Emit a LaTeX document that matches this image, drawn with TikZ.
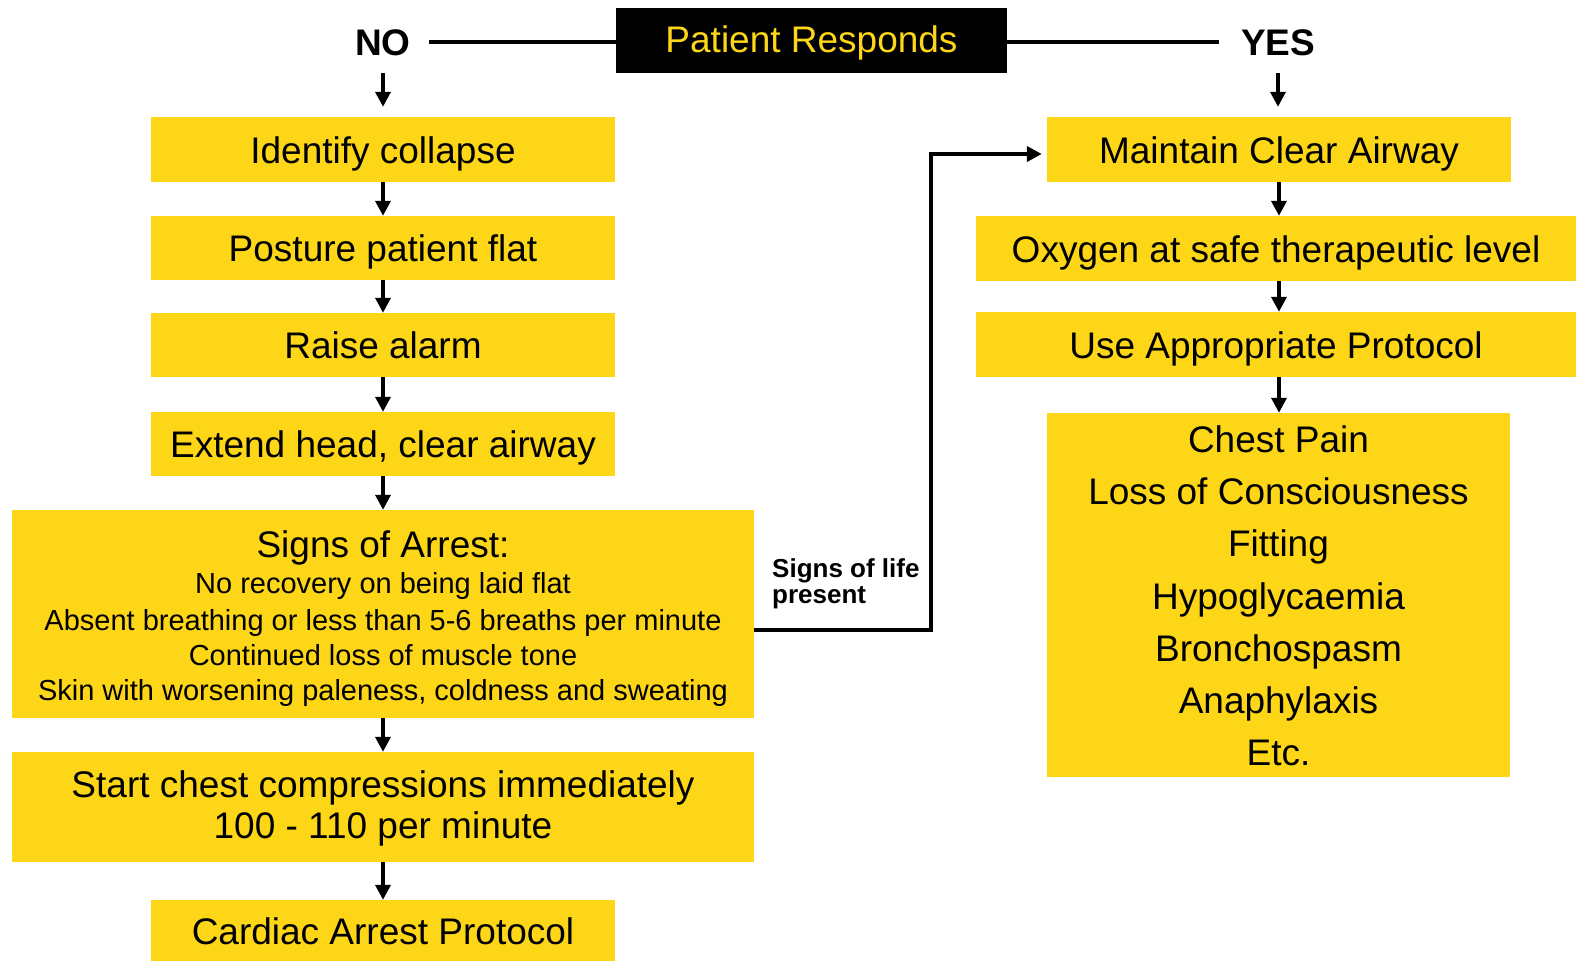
\documentclass[tikz,border=0pt]{standalone}
\usepackage{fontspec}
\setmainfont{Liberation Sans}
\usetikzlibrary{arrows.meta,calc}
\definecolor{ambu}{RGB}{253,214,24}
\begin{document}
\begin{tikzpicture}[x=1pt,y=-1pt,
  box/.style={fill=ambu, inner sep=0pt, text height=27pt, text depth=0pt, font=\fontsize{37}{44}\selectfont},
  narrowbox/.style={box, minimum width=464pt, minimum height=64pt},
  ln/.style={anchor=base, inner sep=0pt, font=\fontsize{37}{44}\selectfont},
  subln/.style={anchor=base, inner sep=0pt, font=\fontsize{29}{34}\selectfont},
  lifeln/.style={anchor=base west, inner sep=0pt, font=\bfseries\fontsize{26}{30}\selectfont},
  answer/.style={inner sep=0pt, text height=27pt, text depth=0pt, font=\bfseries\fontsize{37}{44}\selectfont},
  arr/.style={line width=3.5pt, -{Triangle[width=15pt,length=15pt]}},
  hline/.style={line width=4.5pt},
  conn/.style={line width=4pt, -{Triangle[width=15pt,length=15pt]}},
  ]
\useasboundingbox (0,0) rectangle (1576,961);

% top
\node[fill=black, text=ambu, minimum width=391pt, minimum height=65pt, inner sep=0pt,
      text height=27pt, text depth=4pt, font=\fontsize{37}{44}\selectfont] (pr) at (811.5,40.5) {Patient Responds};
\node[answer] (no) at (383,42) {NO};
\node[answer] (yes) at (1278,42) {YES};
\draw[hline] ([xshift=18pt]no.east) -- (no.east -| pr.west);
\draw[hline] (pr.east |- yes.west) -- ([xshift=-22pt]yes.west);

% left column
\node[narrowbox, minimum height=65pt] (ident) at (383,149.5) {Identify collapse};
\node[narrowbox] (posture) at (383,248) {Posture patient flat};
\node[narrowbox] (raise) at (383,345) {Raise alarm};
\node[narrowbox] (extend) at (383,444) {Extend head, clear airway};
\node[fill=ambu, inner sep=0pt, minimum width=742pt, minimum height=208pt] (signs) at (383,614) {};
\node[ln] (s0) at (383,557) {Signs of Arrest:};
\node[subln] (s1) at (383,593) {No recovery on being laid flat};
\node[subln] (s2) at (383,630) {Absent breathing or less than 5-6 breaths per minute};
\node[subln] (s3) at (383,665) {Continued loss of muscle tone};
\node[subln] (s4) at (383,700) {Skin with worsening paleness, coldness and sweating};
\node[fill=ambu, inner sep=0pt, minimum width=742pt, minimum height=110pt] (start) at (383,807) {};
\node[ln] (c1) at (383,797) {Start chest compressions immediately};
\node[ln] (c2) at (383,838) {100 - 110 per minute};
\node[narrowbox, minimum height=61pt] (cardiac) at (383,930.5) {Cardiac Arrest Protocol};

\draw[arr, shorten <=17.5pt, shorten >=10pt] (no) -- (ident);
\draw[arr] (ident) -- (posture);
\draw[arr] (posture) -- (raise);
\draw[arr] (raise) -- (extend);
\draw[arr] (extend) -- (signs);
\draw[arr] (signs) -- (start);
\draw[arr] (start) -- (cardiac);

% right column
\node[box, minimum width=464pt, minimum height=65pt] (maintain) at (1279,149.5) {Maintain Clear Airway};
\node[box, minimum width=600pt, minimum height=65pt] (oxygen) at (1276,248.5) {Oxygen at safe therapeutic level};
\node[box, minimum width=600pt, minimum height=65pt] (use) at (1276,344.5) {Use Appropriate Protocol};
\node[fill=ambu, inner sep=0pt, minimum width=463pt, minimum height=364pt] (list) at (1278.5,595) {};
\node[ln] (l1) at (1278.5,452) {Chest Pain};
\node[ln] (l2) at (1278.5,504) {Loss of Consciousness};
\node[ln] (l3) at (1278.5,556) {Fitting};
\node[ln] (l4) at (1278.5,609) {Hypoglycaemia};
\node[ln] (l5) at (1278.5,661) {Bronchospasm};
\node[ln] (l6) at (1278.5,713) {Anaphylaxis};
\node[ln] (l7) at (1278.5,765) {Etc.};

\draw[arr, shorten <=17.5pt, shorten >=10pt] (yes) -- (yes |- maintain.north);
\draw[arr] (maintain) -- (maintain |- oxygen.north);
\draw[arr] (oxygen.south -| maintain) -- (maintain |- use.north);
\draw[arr] (use.south -| maintain) -- (maintain |- list.north);

% signs of life connector
\draw[conn, shorten >=5pt] ($(signs.east)+(0,16)$) -| ($(maintain.west)+(-116,4.5)$) -- ($(maintain.west)+(0,4.5)$);
\node[lifeln] (life1) at (772,577) {Signs of life};
\node[lifeln] (life2) at (772,603) {present};
\end{tikzpicture}
\end{document}
